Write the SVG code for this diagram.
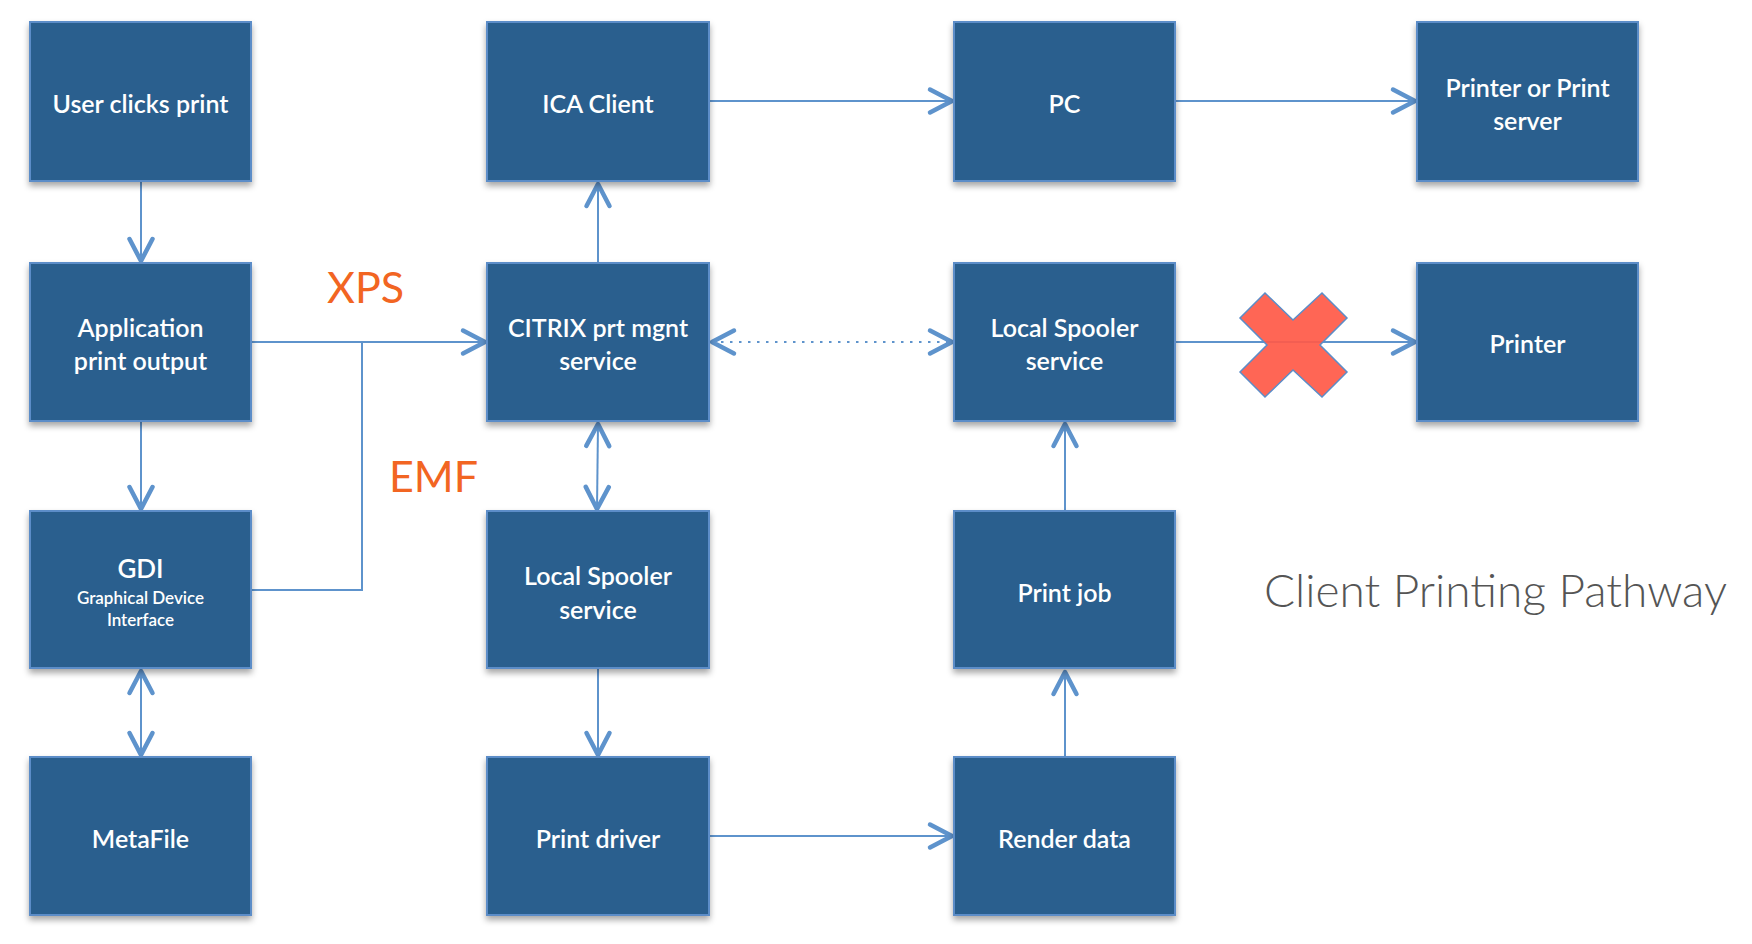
<svg xmlns="http://www.w3.org/2000/svg" width="1752" height="944" viewBox="0 0 1752 944">
<style>
.box{fill:#2a5e8e;stroke:#5b8dc8;stroke-width:2;filter:url(#sh)}
.t{fill:#fff;font-family:Lato,"Liberation Sans",sans-serif;font-weight:600;font-size:25px;text-anchor:middle}
.c{fill:none;stroke:#5e93cc;stroke-width:2}
.lbl{fill:#f26522;font-family:Lato,"Liberation Sans",sans-serif;font-size:43px}
</style>
<defs>
<filter id="sh" x="-10%" y="-10%" width="120%" height="125%">
<feDropShadow dx="0" dy="4" stdDeviation="3" flood-color="#000" flood-opacity="0.35"/>
</filter>
<marker id="ah" markerUnits="userSpaceOnUse" viewBox="-28 -16 32 32" refX="0" refY="0" markerWidth="32" markerHeight="32" orient="auto-start-reverse" overflow="visible">
<path d="M-22,-11.5 L0,0 L-22,11.5" fill="none" stroke="#5e93cc" stroke-width="4.5" stroke-linecap="round" stroke-linejoin="round"/>
</marker>
</defs>
<rect width="1752" height="944" fill="#fff"/>
<g id="connectors">
<line class="c" x1="141" y1="182" x2="141" y2="261" marker-end="url(#ah)"/>
<line class="c" x1="141" y1="422" x2="141" y2="509" marker-end="url(#ah)"/>
<line class="c" x1="141" y1="671" x2="141" y2="755" marker-start="url(#ah)" marker-end="url(#ah)"/>
<line class="c" x1="252" y1="342" x2="485" y2="342" marker-end="url(#ah)"/>
<polyline class="c" points="252,590 362,590 362,342"/>
<line class="c" x1="598" y1="263" x2="598" y2="184" marker-end="url(#ah)"/>
<line class="c" x1="598" y1="424" x2="597" y2="509" marker-start="url(#ah)" marker-end="url(#ah)"/>
<line class="c" x1="598" y1="669" x2="598" y2="755" marker-end="url(#ah)"/>
<line class="c" x1="710" y1="836" x2="952" y2="836" marker-end="url(#ah)"/>
<line class="c" x1="1065" y1="757" x2="1065" y2="672" marker-end="url(#ah)"/>
<line class="c" x1="1065" y1="511" x2="1065" y2="424" marker-end="url(#ah)"/>
<line class="c" x1="712" y1="342" x2="952" y2="342" stroke-dasharray="2.5 6.5" marker-start="url(#ah)" marker-end="url(#ah)"/>
<line class="c" x1="1176" y1="342" x2="1415" y2="342" marker-end="url(#ah)"/>
<line class="c" x1="710" y1="101" x2="952" y2="101" marker-end="url(#ah)"/>
<line class="c" x1="1176" y1="101" x2="1415" y2="101" marker-end="url(#ah)"/>
</g>
<g id="n-user"><rect class="box" x="30" y="22" width="221" height="159"/><text class="t" x="140.5" y="113">User clicks print</text></g>
<g id="n-app"><rect class="box" x="30" y="263" width="221" height="158"/><text class="t" x="140.5" y="337">Application</text><text class="t" x="140.5" y="370">print output</text></g>
<g id="n-gdi"><rect class="box" x="30" y="511" width="221" height="157"/><text class="t" x="140.5" y="578" style="font-size:26px">GDI</text><text class="t" x="140.5" y="604" style="font-size:17px">Graphical Device</text><text class="t" x="140.5" y="626" style="font-size:17px">Interface</text></g>
<g id="n-meta"><rect class="box" x="30" y="757" width="221" height="158"/><text class="t" x="140.5" y="848">MetaFile</text></g>
<g id="n-ica"><rect class="box" x="487" y="22" width="222" height="159"/><text class="t" x="598" y="113">ICA Client</text></g>
<g id="n-citrix"><rect class="box" x="487" y="263" width="222" height="158"/><text class="t" x="598" y="337">CITRIX prt mgnt</text><text class="t" x="598" y="370">service</text></g>
<g id="n-spool1"><rect class="box" x="487" y="511" width="222" height="157"/><text class="t" x="598" y="585">Local Spooler</text><text class="t" x="598" y="619">service</text></g>
<g id="n-driver"><rect class="box" x="487" y="757" width="222" height="158"/><text class="t" x="598" y="848">Print driver</text></g>
<g id="n-pc"><rect class="box" x="954" y="22" width="221" height="159"/><text class="t" x="1064.5" y="113">PC</text></g>
<g id="n-spool2"><rect class="box" x="954" y="263" width="221" height="158"/><text class="t" x="1064.5" y="337">Local Spooler</text><text class="t" x="1064.5" y="370">service</text></g>
<g id="n-job"><rect class="box" x="954" y="511" width="221" height="157"/><text class="t" x="1064.5" y="602">Print job</text></g>
<g id="n-render"><rect class="box" x="954" y="757" width="221" height="158"/><text class="t" x="1064.5" y="848">Render data</text></g>
<g id="n-server"><rect class="box" x="1417" y="22" width="221" height="159"/><text class="t" x="1527.5" y="97">Printer or Print</text><text class="t" x="1527.5" y="130">server</text></g>
<g id="n-printer"><rect class="box" x="1417" y="263" width="221" height="158"/><text class="t" x="1527.5" y="353">Printer</text></g>
<g id="cross"><polygon points="1265,293 1293,320 1322,293 1347,318 1320,345 1347,372 1322,397 1293,370 1265,397 1240,372 1267,345 1240,318" fill="#ff5a48" fill-opacity="0.93" stroke="#5b8dc8" stroke-width="1.5"/></g>
<text class="lbl" x="327" y="303">XPS</text>
<text class="lbl" x="389" y="492">EMF</text>
<text x="1264" y="607" style="fill:#555;font-family:Lato,'Open Sans',sans-serif;font-weight:300;font-size:46px">Client Printing Pathway</text>
</svg>
